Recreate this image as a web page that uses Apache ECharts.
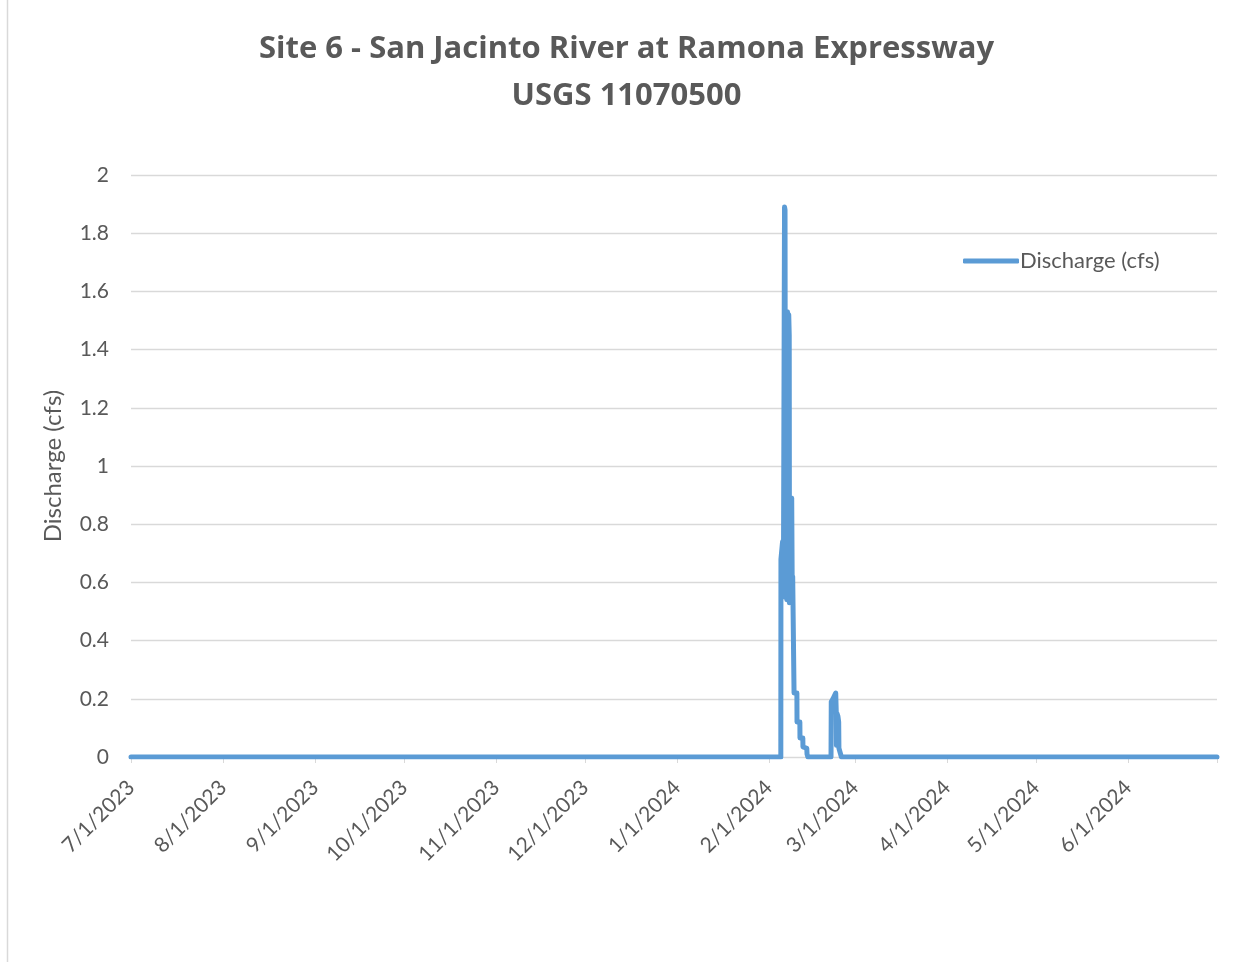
<!DOCTYPE html>
<html>
<head>
<meta charset="utf-8">
<title>Site 6 - San Jacinto River at Ramona Expressway</title>
<script src="https://cdn.jsdelivr.net/npm/echarts@6/dist/echarts.min.js"></script>
<style>
  html, body { margin: 0; padding: 0; background: #fff; }
  #chart { width: 1253px; height: 962px; }
</style>
</head>
<body>
<div id="chart"></div>
<script>
// discharge readings (cfs)
const flowTimes = [
  '2023-07-01 00:00', '2024-02-05 00:00', '2024-02-05 01:00', '2024-02-05 14:00',
  '2024-02-05 18:00', '2024-02-05 22:00', '2024-02-06 06:00', '2024-02-06 10:00',
  '2024-02-06 14:00', '2024-02-06 20:00', '2024-02-07 00:00', '2024-02-07 06:00',
  '2024-02-07 12:00', '2024-02-07 16:00', '2024-02-07 20:00', '2024-02-07 22:00',
  '2024-02-08 04:00', '2024-02-08 10:00', '2024-02-08 16:00', '2024-02-08 20:00',
  '2024-02-09 00:00', '2024-02-09 10:00', '2024-02-09 11:00', '2024-02-10 10:00',
  '2024-02-10 11:00', '2024-02-11 10:00', '2024-02-11 11:00', '2024-02-12 10:00',
  '2024-02-12 11:00', '2024-02-13 18:00', '2024-02-13 20:00', '2024-02-14 03:00',
  '2024-02-21 22:00', '2024-02-22 00:00', '2024-02-22 14:00', '2024-02-23 12:00',
  '2024-02-23 16:00', '2024-02-23 18:00', '2024-02-23 22:00', '2024-02-24 06:00',
  '2024-02-24 12:00', '2024-02-24 14:00', '2024-02-24 22:00', '2024-02-25 10:00',
  '2024-06-30 23:45'
];
const flowValues = [
  0, 0, 0.68, 0.74,
  0.55, 0.72, 1.89, 1.88,
  0.55, 1.2, 0.54, 1.53,
  0.55, 1.52, 1.45, 0.53,
  0.89, 0.55, 0.89, 0.6,
  0.62, 0.62, 0.22, 0.22,
  0.12, 0.12, 0.065, 0.065,
  0.035, 0.03, 0.01, 0,
  0, 0.19, 0.2, 0.22,
  0.16, 0.04, 0.15, 0.14,
  0.12, 0.03, 0.03, 0,
  0
];
const yTicks = [0, 0.2, 0.4, 0.6, 0.8, 1, 1.2, 1.4, 1.6, 1.8, 2];
const xStart = '2023-07-01 00:00';
const xEnd = '2024-07-01 00:00';

const font = 'Lato, "Open Sans", sans-serif';
const grey = '#595959';
const endTime = echarts.time.parse(xEnd).getTime();

let myChart = echarts.init(document.getElementById('chart'));

myChart.setOption({
  animation: false,
  backgroundColor: '#fff',
  textStyle: { fontFamily: font },
  title: {
    text: 'Site 6 - San Jacinto River at Ramona Expressway\nUSGS 11070500',
    left: 'center',
    top: 21,
    textStyle: {
      fontFamily: '"Open Sans", Lato, sans-serif',
      fontSize: 31,
      fontWeight: 'bold',
      color: grey,
      lineHeight: 47
    }
  },
  legend: {
    left: 958,
    top: 245,
    icon: 'roundRect',
    itemWidth: 56,
    itemHeight: 5,
    textStyle: { fontFamily: font, fontSize: 22, color: grey, padding: [0, 0, 0, -4] }
  },
  grid: { left: 131, right: 36, top: 175, bottom: 205, containLabel: false },
  xAxis: {
    type: 'time',
    min: xStart,
    max: xEnd,
    splitNumber: 12,
    minInterval: 28 * 86400000,
    maxInterval: 31 * 86400000,
    axisLine: { lineStyle: { color: '#d9d9d9', width: 1 } },
    axisTick: { show: true, length: 6, lineStyle: { color: '#d9d9d9' } },
    splitLine: { show: false },
    axisLabel: {
      rotate: 45,
      margin: 27,
      fontSize: 21,
      color: grey,
      fontFamily: font,
      formatter: function (v) {
        if (v >= endTime) return '';
        const d = new Date(v);
        return (d.getMonth() + 1) + '/' + d.getDate() + '/' + d.getFullYear();
      }
    }
  },
  yAxis: {
    type: 'value',
    min: yTicks[0],
    max: yTicks[yTicks.length - 1],
    interval: 0.2,
    name: 'Discharge (cfs)',
    nameLocation: 'middle',
    nameGap: 66,
    nameTextStyle: { fontFamily: font, fontSize: 24, color: grey },
    axisLine: { show: false },
    axisTick: { show: false },
    splitLine: { lineStyle: { color: '#d9d9d9', width: 1.3 } },
    axisLabel: { fontSize: 21, color: grey, fontFamily: font, margin: 22 }
  },
  series: [
    {
      name: 'Discharge (cfs)',
      type: 'line',
      showSymbol: false,
      symbol: 'none',
      color: '#5b9bd5',
      lineStyle: { width: 5, color: '#5b9bd5', join: 'round', cap: 'round' },
      data: flowTimes.map((t, i) => [t, flowValues[i]])
    }
  ],
  graphic: [
    {
      type: 'line',
      shape: { x1: 7.5, y1: 0, x2: 7.5, y2: 962 },
      style: { stroke: '#d9d9d9', lineWidth: 1.5 }
    }
  ]
});
</script>
</body>
</html>
